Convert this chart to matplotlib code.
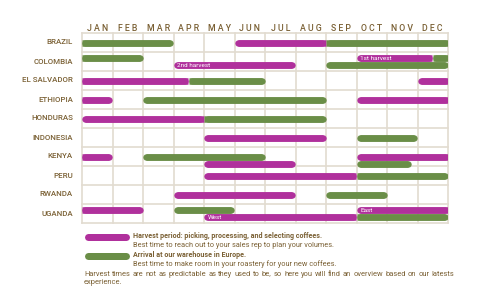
import matplotlib
matplotlib.use("Agg")
import matplotlib.pyplot as plt
from matplotlib.lines import Line2D

plt.rcParams['font.family'] = ['Roboto', 'DejaVu Sans']

# ---------------- data ----------------
months = ["JAN", "FEB", "MAR", "APR", "MAY", "JUN", "JUL", "AUG", "SEP", "OCT", "NOV", "DEC"]
countries = ["BRAZIL", "COLOMBIA", "EL SALVADOR", "ETHIOPIA", "HONDURAS",
             "INDONESIA", "KENYA", "PERU", "RWANDA", "UGANDA"]

# each bar: country, kind (harvest / arrival), start month, end month (0 = start Jan, 12 = end Dec),
# lane within row, continues over the year boundary, label
bar_country = ["BRAZIL", "BRAZIL", "BRAZIL",
               "COLOMBIA", "COLOMBIA", "COLOMBIA", "COLOMBIA", "COLOMBIA",
               "EL SALVADOR", "EL SALVADOR", "EL SALVADOR",
               "ETHIOPIA", "ETHIOPIA", "ETHIOPIA",
               "HONDURAS", "HONDURAS",
               "INDONESIA", "INDONESIA",
               "KENYA", "KENYA", "KENYA", "KENYA", "KENYA",
               "PERU", "PERU",
               "RWANDA", "RWANDA",
               "UGANDA", "UGANDA", "UGANDA", "UGANDA", "UGANDA"]
bar_kind = ["arrival", "harvest", "arrival",
            "arrival", "harvest", "harvest", "arrival", "arrival",
            "harvest", "arrival", "harvest",
            "harvest", "arrival", "harvest",
            "harvest", "arrival",
            "harvest", "arrival",
            "harvest", "arrival", "harvest", "harvest", "arrival",
            "harvest", "arrival",
            "harvest", "arrival",
            "harvest", "arrival", "harvest", "harvest", "arrival"]
bar_start = [0, 5, 8,
             0, 3, 9, 11.5, 8,
             0, 3.5, 11,
             0, 2, 9,
             0, 4,
             4, 9,
             0, 2, 9, 4, 9,
             4, 9,
             3, 8,
             0, 3, 9, 4, 9]
bar_end = [3, 8, 12,
           2, 7, 11.5, 12, 12,
           3.5, 6, 12,
           1, 8, 12,
           4, 8,
           8, 11,
           1, 6, 12, 7, 10.8,
           9, 12,
           7, 10,
           2, 5, 12, 9, 12]
bar_lane = ["c", "c", "c",
            "u", "l", "u", "u", "l",
            "c", "c", "c",
            "c", "c", "c",
            "c", "c",
            "c", "c",
            "c", "c", "c", "k", "k",
            "c", "c",
            "c", "c",
            "u", "u", "u", "l", "l"]
bar_wraps = [True, False, True,
             True, False, False, True, False,
             True, False, True,
             True, False, True,
             False, False,
             False, False,
             True, False, True, False, False,
             False, False,
             False, False,
             True, False, True, False, False]
bar_label = ["", "", "",
             "", "2nd harvest", "1st harvest", "", "",
             "", "", "",
             "", "", "",
             "", "",
             "", "",
             "", "", "", "", "",
             "", "",
             "", "",
             "", "", "East", "West", ""]

legend_titles = ["Harvest period: picking, processing, and selecting coffees.",
                 "Arrival at our warehouse in Europe."]
legend_subs = ["Best time to reach out to your sales rep to plan your volumes.",
               "Best time to make room in your roastery for your new coffees."]
footnote = ("Harvest times are not as predictable as they used to be, so here you will "
            "find an overview based on our latests experience.")

# ---------------- style ----------------
W, H = 480, 297
COL = {"harvest": "#b0309c", "arrival": "#6a8e47"}
TEXT = "#7a6034"
GRID = "#e2dbd0"
LANE_OFF = {"c": 0.0, "u": -0.18, "l": 0.20, "k": 0.37}
LW_PX = 6.5
LW = LW_PX * 72 / 100
PX_PER_MONTH = 366 / 12
R = (LW_PX / 2) / PX_PER_MONTH

fig = plt.figure(figsize=(W / 100, H / 100), dpi=100)
ax = fig.add_axes([82 / W, 1 - 223 / H, 366 / W, 190 / H])
ax.set_xlim(0, 12)
ax.set_ylim(len(countries) - 0.5, -0.5)
ax.axis("off")

for i in range(13):
    ax.plot([i, i], [-0.5, len(countries) - 0.5], color=GRID, lw=1.2, zorder=1, clip_on=False)
for j in range(len(countries) + 1):
    ax.plot([0, 12], [j - 0.5, j - 0.5], color=GRID, lw=1.2, zorder=1, clip_on=False)

for i, m in enumerate(months):
    ax.text(i + 0.5, -0.76, " ".join(m), ha="center", va="center", fontsize=6.3,
            color=TEXT, fontweight="medium", clip_on=False)

for j, c in enumerate(countries):
    ax.text(-0.3, j, c, ha="right", va="center", fontsize=5.7, color=TEXT,
            fontweight="medium", clip_on=False)

GAP = 0.015
for k in range(len(bar_start)):
    row = countries.index(bar_country[k])
    y = row + LANE_OFF[bar_lane[k]]
    a, b = bar_start[k], bar_end[k]
    lane_bars = [q for q in range(len(bar_start)) if q != k and bar_country[q] == bar_country[k]
                 and bar_lane[q] == bar_lane[k]]
    join_left = any(abs(bar_end[q] - a) < 1e-6 for q in lane_bars)
    join_right = any(abs(bar_start[q] - b) < 1e-6 for q in lane_bars)
    flat_left = join_left or (a == 0 and bar_wraps[k])
    flat_right = join_right or (b == 12 and bar_wraps[k])
    aa = a + (GAP if join_left else 0)
    bb = b - (GAP if join_right else 0)
    color = COL[bar_kind[k]]
    ax.add_line(Line2D([aa + R, bb - R], [y, y], color=color, lw=LW,
                       solid_capstyle="round", zorder=3))
    ax.add_line(Line2D([aa if flat_left else aa + R, bb if flat_right else bb - R], [y, y],
                       color=color, lw=LW, solid_capstyle="butt", zorder=3))
    if bar_label[k]:
        ax.text(aa + 0.12, y, bar_label[k], ha="left", va="center", fontsize=4.6,
                color="white", zorder=4)


def fx(x):
    return x / W


def fy(y):
    return 1 - y / H


for idx in range(2):
    yb = [236.7, 255.7][idx]
    color = COL[["harvest", "arrival"][idx]]
    fig.add_artist(Line2D([fx(84 + 3.5), fx(129.5 - 3.5)], [fy(yb), fy(yb)], color=color,
                          lw=7 * 0.72, solid_capstyle="round"))
    fig.text(fx(133), fy(yb - 0.5), legend_titles[idx], fontsize=5.15, fontweight="bold",
             color=TEXT, ha="left", va="center")
    fig.text(fx(133), fy(yb + 8.5), legend_subs[idx], fontsize=5.3,
             color=TEXT, ha="left", va="center")

words = footnote.split(" ")
last = words.index("experience.")
line1 = words[:last]
fs = 5.4
fig.canvas.draw()
renderer = fig.canvas.get_renderer()
tw = []
tmp = []
for w in line1:
    t = fig.text(0, 0, w, fontsize=fs, color=TEXT)
    tmp.append(t)
    tw.append(t.get_window_extent(renderer).width)
for t in tmp:
    t.remove()
x0, x1 = 84, 454
gap = (x1 - x0 - sum(tw)) / (len(line1) - 1)
x = x0
for w, wd in zip(line1, tw):
    fig.text(fx(x), fy(274), w, fontsize=fs, color=TEXT, ha="left", va="center")
    x += wd + gap
fig.text(fx(84), fy(282.5), words[last], fontsize=fs, color=TEXT, ha="left", va="center")

fig.savefig("out.png", dpi=100)
